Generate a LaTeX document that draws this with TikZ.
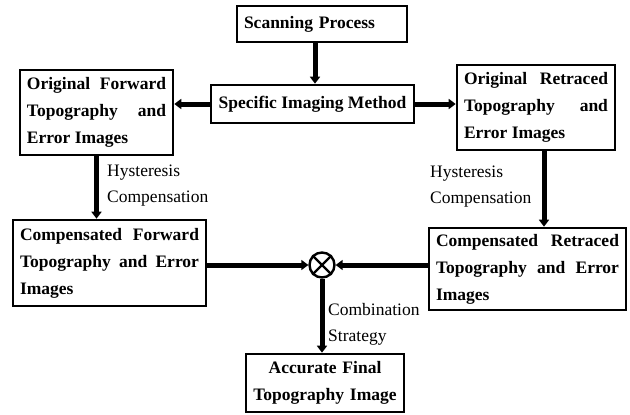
\documentclass[tikz,border=0pt]{standalone}
\usepackage{fontspec}
\setmainfont{Liberation Serif}
\usetikzlibrary{arrows.meta}

\begin{document}
\begin{tikzpicture}[x=1pt,y=-1pt,
  box/.style={draw=black,line width=2.6pt,inner xsep=7pt,inner ysep=0pt,
    font=\fontsize{17.5}{27}\selectfont\bfseries},
  note/.style={anchor=north west,inner sep=0pt,align=left,
    font=\fontsize{17.5}{26}\selectfont},
  flow/.style={-{Triangle[length=7pt,width=10pt]},line width=5pt}]
\useasboundingbox (0,0) rectangle (630,415);

\node[box,minimum width=170pt,minimum height=36pt,text width=156pt,align=left](scan) at (322,24) {Scanning Process};
\node[box,minimum width=203pt,minimum height=38pt](method) at (312.5,104) {Specific Imaging Method};
\node[box,minimum width=153pt,minimum height=85pt,text width=139pt,align=justify](fwd) at (96.5,112.5)
  {Original Forward Topography and Error Images};
\node[box,minimum width=158pt,minimum height=85pt,text width=144pt,align=justify](ret) at (536,107.5)
  {Original Retraced Topography and Error Images};
\node[box,minimum width=193pt,minimum height=86pt,text width=179pt,align=justify](cfwd) at (109.5,263)
  {Compensated Forward Topography and Error Images};
\node[box,minimum width=197pt,minimum height=82pt,text width=183pt,align=justify](cret) at (527.5,269)
  {Compensated Retraced Topography and Error Images};
\node[box,minimum width=158pt,minimum height=58pt,text width=144pt,align=center](final) at (325,383)
  {Accurate Final Topography Image};
\node[draw=black,circle,line width=2.4pt,minimum size=25pt,inner sep=0pt](mix) at (322,265) {};
\draw[line width=2.4pt] (mix.north west) -- (mix.south east) (mix.north east) -- (mix.south west);

\node[note](hfwd) at (107,165) {Hysteresis\\Compensation};
\node[note](hret) at (430,166) {Hysteresis\\Compensation};
\node[note](comb) at (328,303) {Combination\\Strategy};

\path[flow] ([xshift=-7pt]scan.south) edge ([xshift=-7pt]scan.south |- method.north);
\path[flow] (method.west) edge (fwd.east |- method.west);
\path[flow] (method.east) edge (ret.west |- method.east);
\path[flow] (fwd.south) edge (fwd.south |- cfwd.north);
\path[flow] ([xshift=8pt]ret.south) edge ([xshift=8pt]ret.south |- cret.north);
\path[flow] (cfwd.east |- mix.west) edge (mix.west);
\path[flow] (cret.west |- mix.east) edge (mix.east);
\path[flow] (mix.south) edge (mix.south |- final.north);
\end{tikzpicture}
\end{document}
